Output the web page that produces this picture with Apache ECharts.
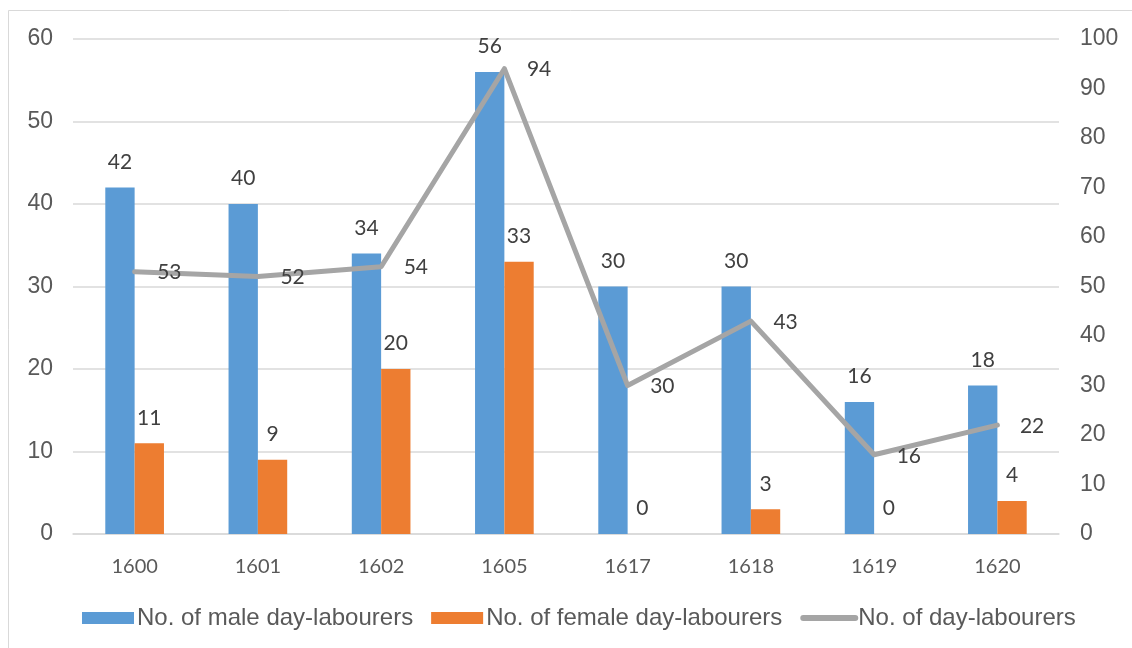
<!DOCTYPE html>
<html>
<head>
<meta charset="utf-8">
<style>
  html, body { margin: 0; padding: 0; background: #ffffff; }
  #chart { width: 1132px; height: 648px; }
</style>
<script src="https://cdn.jsdelivr.net/npm/echarts@6/dist/echarts.min.js"></script>
</head>
<body>
<div id="chart"></div>
<script>
// Day-labourers per year
const years = ['1600', '1601', '1602', '1605', '1617', '1618', '1619', '1620'];
const maleLabourers = [42, 40, 34, 56, 30, 30, 16, 18];
const femaleLabourers = [11, 9, 20, 33, 0, 3, 0, 4];
const totalLabourers = [53, 52, 54, 94, 30, 43, 16, 22];
const leftTicks = { min: 0, max: 60, interval: 10 };
const rightTicks = { min: 0, max: 100, interval: 10 };

const seriesNames = ['No. of male day-labourers', 'No. of female day-labourers', 'No. of day-labourers'];

const axisFont = { fontFamily: '"Liberation Sans", Arial, sans-serif', fontSize: 23, color: '#595959' };
const legendFont = { fontFamily: '"Liberation Sans", Arial, sans-serif', fontSize: 24, color: '#595959' };
const labelFont = { fontFamily: 'Lato, "Liberation Sans", sans-serif', fontSize: 21, color: '#404040', lineHeight: 21 };

const chart = echarts.init(document.getElementById('chart'), null, { renderer: 'canvas' });

chart.setOption({
  backgroundColor: '#ffffff',
  animation: false,
  graphic: [{
    type: 'rect',
    shape: { x: 8.5, y: 10.5, width: 1200, height: 700 },
    style: { fill: 'none', stroke: '#d9d9d9', lineWidth: 1 },
    silent: true
  }],
  grid: { left: 73, right: 73, top: 39, bottom: 114, containLabel: false },
  legend: {
    left: 82,
    top: 606,
    padding: 0,
    itemWidth: 52,
    itemHeight: 12,
    itemGap: 18,
    textStyle: Object.assign({}, legendFont, { padding: [0, 0, 0, -2] }),
    data: [
      { name: seriesNames[0], icon: 'rect' },
      { name: seriesNames[1], icon: 'rect' },
      {
        name: seriesNames[2],
        itemStyle: { opacity: 0 },
        lineStyle: { width: 6, cap: 'round', color: '#a5a5a5' }
      }
    ]
  },
  xAxis: {
    type: 'category',
    data: years,
    axisTick: { show: false },
    axisLine: { lineStyle: { color: '#d9d9d9', width: 1.5 } },
    axisLabel: Object.assign({}, labelFont, { color: '#595959', fontSize: 20, margin: 22 })
  },
  yAxis: [
    {
      type: 'value',
      min: leftTicks.min, max: leftTicks.max, interval: leftTicks.interval,
      axisLine: { show: false },
      axisTick: { show: false },
      splitLine: { lineStyle: { color: '#d9d9d9', width: 1.5 } },
      axisLabel: Object.assign({}, axisFont, { margin: 20 })
    },
    {
      type: 'value',
      min: rightTicks.min, max: rightTicks.max, interval: rightTicks.interval,
      axisLine: { show: false },
      axisTick: { show: false },
      splitLine: { show: false },
      axisLabel: Object.assign({}, axisFont, { margin: 21 })
    }
  ],
  series: [
    {
      name: seriesNames[0],
      type: 'bar',
      data: maleLabourers,
      barWidth: '23.8%',
      barGap: '0%',
      itemStyle: { color: '#5b9bd5' },
      label: Object.assign({ show: true, position: 'top', distance: 15 }, labelFont)
    },
    {
      name: seriesNames[1],
      type: 'bar',
      data: femaleLabourers,
      barWidth: '23.8%',
      barGap: '0%',
      itemStyle: { color: '#ed7d31' },
      label: Object.assign({ show: true, position: 'top', distance: 15 }, labelFont)
    },
    {
      name: seriesNames[2],
      type: 'line',
      yAxisIndex: 1,
      data: totalLabourers,
      symbol: 'circle',
      symbolSize: 1,
      showSymbol: true,
      z: 5,
      lineStyle: { color: '#a5a5a5', width: 5, cap: 'round', join: 'round' },
      itemStyle: { color: 'rgba(165,165,165,0)' },
      label: Object.assign({ show: true, position: 'right', distance: 22, offset: [0, 1] }, labelFont)
    }
  ]
});
</script>
</body>
</html>
